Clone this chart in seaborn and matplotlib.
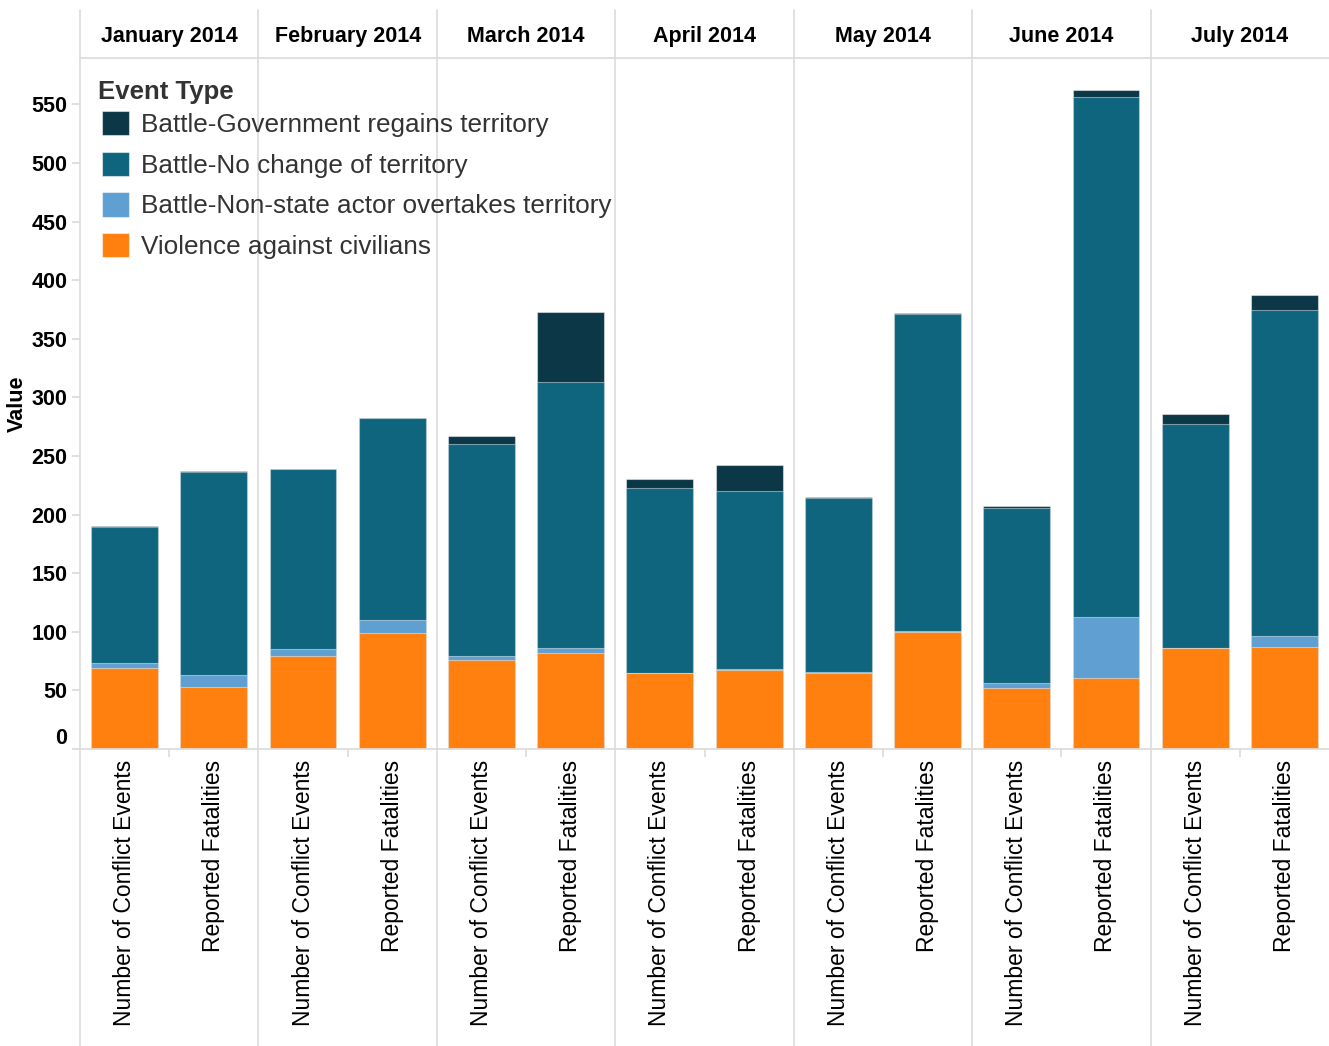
import numpy as np
import pandas as pd
import seaborn as sns
import matplotlib.pyplot as plt

months = ['January 2014', 'February 2014', 'March 2014', 'April 2014',
          'May 2014', 'June 2014', 'July 2014']
measures = ['Number of Conflict Events', 'Reported Fatalities']
event_types = ['Battle-Government regains territory', 'Battle-No change of territory',
               'Battle-Non-state actor overtakes territory', 'Violence against civilians']

# one value per bar: Jan NCE, Jan RF, Feb NCE, Feb RF, ...
gov_regains = [1, 1, 0, 0, 7, 60, 7, 22, 1, 1, 1, 6, 9, 12]
no_change = [116, 173, 154, 172, 181, 227, 158, 152, 148, 270, 150, 443, 191, 279]
nonstate = [4, 10, 6, 11, 3, 4, 0, 1, 1, 1, 4, 52, 0, 9]
civilians = [69, 53, 79, 99, 76, 82, 65, 67, 65, 100, 52, 61, 86, 87]

colors = ['#0b3746', '#0f657d', '#5f9fd1', '#ff7f0f']

sns.set_theme(style='white')
plt.rcParams['font.family'] = ['Liberation Sans', 'DejaVu Sans']

slots = [f'{m}|{s}' for m in months for s in measures]
stack = np.cumsum(np.array([civilians, nonstate, no_change, gov_regains]), axis=0)
# stack rows: civ, civ+ns, civ+ns+nc, total -> reverse to match event_types order
rows = []
for k, etype in enumerate(event_types):
    layer = stack[3 - k]
    for slot, v in zip(slots, layer):
        rows.append({'slot': slot, 'type': etype, 'cum': v})
df = pd.DataFrame(rows)

fig = plt.figure(figsize=(13.29, 10.46), dpi=100)
W, H = 1329, 1046
ax = fig.add_axes([80 / W, (H - 749) / H, 1249 / W, 691 / H])

sns.barplot(data=df, x='slot', y='cum', hue='type', hue_order=event_types,
            order=slots, palette=colors, dodge=False, width=0.75, saturation=1,
            errorbar=None, edgecolor=(1, 1, 1, 0.45), linewidth=0.8, ax=ax)

ax.set_xlim(-0.5, len(slots) - 0.5)
ax.set_ylim(0, 691 / 1.172)

grid_c = '#dcdcdc'
ax.spines['right'].set_visible(False)
ax.spines['left'].set_visible(False)
ax.spines['top'].set_color(grid_c)
ax.spines['bottom'].set_color(grid_c)

# panel separators running through header and labels
below = 297 / 691
above = 48 / 691
for i in range(len(months)):
    ax.axvline(2 * i - 0.5, ymin=-below, ymax=1 + above, color=grid_c, lw=1.2,
               clip_on=False, zorder=0)

# month headers
for i, m in enumerate(months):
    ax.text(2 * i + 0.5, 1 + 16 / 691, m, transform=ax.get_xaxis_transform(),
            ha='center', va='baseline', fontsize=15.5, fontweight='bold', color='black')

# y axis
yt = np.arange(0, 551, 50)
ax.set_yticks(yt)
ax.set_yticklabels([str(v) for v in yt], fontsize=15.5, fontweight='bold', color='black')
ax.tick_params(axis='y', left=True, length=6, color=grid_c, pad=3)
ylabels = ax.get_yticklabels()
ylabels[0].set_va('bottom')
ax.set_ylabel('Value', fontsize=15.5, fontweight='bold', color='black')
ax.yaxis.set_label_coords((17 - 80) / 1249, 0.5)
ax.yaxis.label.set_va('center')
ax.yaxis.label.set_ha('center')

# x axis
ax.set_xticks(range(len(slots)))
ax.set_xticklabels([s.split('|')[1] for s in slots], rotation=90, fontsize=16.5,
                   color='black', va='top', ha='center')
ax.tick_params(axis='x', bottom=False, length=0, pad=8)
ax.set_xticks(np.arange(0.5, len(slots), 2), minor=True)
ax.tick_params(axis='x', which='minor', bottom=True, length=6, color=grid_c, width=1.2)
ax.set_xlabel('')

# legend (title drawn separately to match the tight title spacing)
handles, labels = ax.get_legend_handles_labels()
ax.get_legend().remove()
ax.text(18 / 1249, 1 - (92 - 58) / 691, 'Event Type', transform=ax.transAxes,
        ha='left', va='center', fontsize=18.5, fontweight='bold', color='#333333')
leg = ax.legend(handles, labels, loc='upper left',
                bbox_to_anchor=(22 / 1249, 1 - (111 - 58) / 691), frameon=False,
                fontsize=18.8, handlelength=1.05, handleheight=1.05,
                handletextpad=0.45, labelspacing=0.56, borderaxespad=0,
                borderpad=0)
for t in leg.get_texts():
    t.set_color('#333333')
for p in leg.get_patches():
    p.set_edgecolor((1, 1, 1, 0.5))

fig.savefig('out.png', dpi=100)
